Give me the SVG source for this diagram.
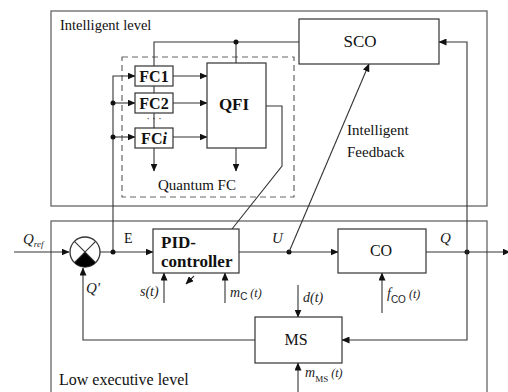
<svg xmlns="http://www.w3.org/2000/svg" width="508" height="392" viewBox="0 0 508 392">
<defs>
<marker id="ar" markerWidth="8" markerHeight="7" refX="7.5" refY="3.5" orient="auto" markerUnits="userSpaceOnUse">
<path d="M0,0 L8,3.5 L0,7 Z" fill="#111"/>
</marker>
<style>
.frame{fill:none;stroke:#666;stroke-width:1.3}
.box{fill:#fff;stroke:#333;stroke-width:1.2}
.ln{fill:none;stroke:#333;stroke-width:1.1}
.la{fill:none;stroke:#333;stroke-width:1.1;marker-end:url(#ar)}
.dot{fill:#111}
text{font-family:'Liberation Serif','Times New Roman',Times,'DejaVu Serif',serif}
.t{fill:#111}
.b{font-weight:bold;fill:#111}
.i{font-style:italic;fill:#222}
.s{font-family:'Liberation Sans',Arial,sans-serif;font-style:normal}
</style>
</defs>
<rect width="508" height="392" fill="#fff"/>

<g id="intelligent-level">
<rect class="frame" x="51" y="11" width="436" height="195"/>
<text class="t" x="60" y="30" font-size="14.5">Intelligent level</text>
</g>
<g id="low-level">
<rect class="frame" x="51" y="221" width="436" height="180"/>
<text class="t" x="59" y="385" font-size="16">Low executive level</text>
</g>
<g id="quantum-fc">
<rect x="122" y="57" width="172" height="140" fill="none" stroke="#666" stroke-width="1.2" stroke-dasharray="6,4"/>
<text class="t" x="197" y="190" font-size="15" text-anchor="middle">Quantum FC</text>
</g>

<g id="connectors">
<polyline class="ln" points="154,66 154,42 299,42"/>
<line class="ln" x1="236" y1="42" x2="236" y2="63"/>
<circle class="dot" cx="236" cy="42" r="2.5"/>
<line class="ln" x1="154" y1="86" x2="154" y2="93"/>
<line class="ln" x1="154" y1="113" x2="154" y2="128"/>
<polyline class="la" points="113,252 113,76 135,76"/>
<line class="la" x1="113" y1="103" x2="135" y2="103"/>
<line class="la" x1="113" y1="137" x2="135" y2="137"/>
<circle class="dot" cx="113" cy="103" r="2.5"/>
<circle class="dot" cx="113" cy="137" r="2.5"/>
<line class="la" x1="173" y1="76" x2="207" y2="76"/>
<line class="la" x1="173" y1="103" x2="207" y2="103"/>
<line class="la" x1="173" y1="137" x2="207" y2="137"/>
<line class="la" x1="154" y1="148" x2="154" y2="171"/>
<line class="la" x1="236" y1="148" x2="236" y2="171"/>
<polyline class="ln" points="266,106 282,106 282,166 232,229"/>
<line class="la" x1="14" y1="252" x2="69" y2="252"/>
<line class="la" x1="100" y1="252" x2="153" y2="252"/>
<circle class="dot" cx="113" cy="252" r="2.5"/>
<line class="la" x1="239" y1="252" x2="338" y2="252"/>
<circle class="dot" cx="289" cy="252" r="2.5"/>
<line class="la" x1="426" y1="252" x2="510" y2="252"/>
<circle class="dot" cx="467" cy="252" r="2.5"/>
<line class="la" x1="289" y1="252" x2="369" y2="64"/>
<polyline class="la" points="467,252 467,42 439,42"/>
<polyline class="la" points="467,252 467,340 342,340"/>
<polyline class="la" points="255,340 83,340 83,268"/>
<line class="la" x1="298" y1="285" x2="298" y2="317"/>
<line class="la" x1="298" y1="392" x2="298" y2="363"/>
<line class="la" x1="382" y1="313" x2="382" y2="273"/>
<line class="la" x1="164" y1="303" x2="164" y2="273"/>
<line class="la" x1="225" y1="303" x2="225" y2="273"/>
<line class="la" x1="194" y1="276" x2="186" y2="284"/>
</g>

<g id="sum">
<circle cx="85" cy="252" r="15" fill="#fff" stroke="#333" stroke-width="1.3"/>
<path d="M85,252 L95.6,262.6 A15,15 0 0,1 74.4,262.6 Z" fill="#000"/>
<line class="ln" x1="74.4" y1="241.4" x2="95.6" y2="262.6"/>
<line class="ln" x1="95.6" y1="241.4" x2="74.4" y2="262.6"/>
</g>

<g id="FC1">
<rect class="box" x="135" y="66" width="38" height="20"/>
<text class="b" x="154" y="82" font-size="16" text-anchor="middle">FC1</text>
</g>
<g id="FC2">
<rect class="box" x="135" y="93" width="38" height="20"/>
<text class="b" x="154" y="109" font-size="16" text-anchor="middle">FC2</text>
</g>
<text class="t" x="154" y="122" font-size="10" text-anchor="middle" fill="#a6c">· · ·</text>
<g id="FCi">
<rect class="box" x="135" y="128" width="38" height="20"/>
<text class="b" x="154" y="144" font-size="16" text-anchor="middle">FC<tspan font-style="italic">i</tspan></text>
</g>
<g id="QFI">
<rect class="box" x="207" y="63" width="59" height="85"/>
<text class="b" x="234" y="110" font-size="17" text-anchor="middle">QFI</text>
</g>
<g id="SCO">
<rect class="box" x="299" y="19" width="140" height="45"/>
<text class="t" x="360" y="47" font-size="17" text-anchor="middle">SCO</text>
</g>
<g id="feedback-label">
<text class="t" x="347" y="135" font-size="15">Intelligent</text>
<text class="t" x="347" y="157" font-size="15">Feedback</text>
</g>
<g id="PID">
<rect class="box" x="153" y="229" width="86" height="44"/>
<text class="b" x="161" y="248" font-size="17">PID-</text>
<text class="b" x="161" y="267" font-size="17">controller</text>
</g>
<g id="CO">
<rect class="box" x="338" y="229" width="88" height="44"/>
<text class="t" x="381" y="256" font-size="16" text-anchor="middle">CO</text>
</g>
<g id="MS">
<rect class="box" x="255" y="317" width="87" height="46"/>
<text class="t" x="296" y="345" font-size="16" text-anchor="middle">MS</text>
</g>

<g id="labels">
<text class="i" x="23" y="244" font-size="15" fill="#777">Q<tspan font-size="9" dy="3">ref</tspan></text>
<text class="t" x="124" y="243" font-size="14">E</text>
<text class="i" x="272" y="243" font-size="15">U</text>
<text class="i" x="440" y="243" font-size="15">Q</text>
<text class="i" x="86" y="293" font-size="15">Q'</text>
<text class="i" x="140" y="296" font-size="14">s(t)</text>
<text class="i" x="230" y="297" font-size="14">m<tspan class="s" font-size="10" dy="3">C</tspan><tspan dy="-3" font-size="12"> (t)</tspan></text>
<text class="i" x="303" y="302" font-size="14">d(t)</text>
<text class="i" x="387" y="298" font-size="14">f<tspan class="s" font-size="10" dy="5">CO</tspan><tspan dy="-5" font-size="12"> (t)</tspan></text>
<text class="i" x="305" y="377" font-size="14">m<tspan font-style="normal" font-size="9" dy="5">MS</tspan><tspan dy="-5" font-size="12"> (t)</tspan></text>
</g>
</svg>
